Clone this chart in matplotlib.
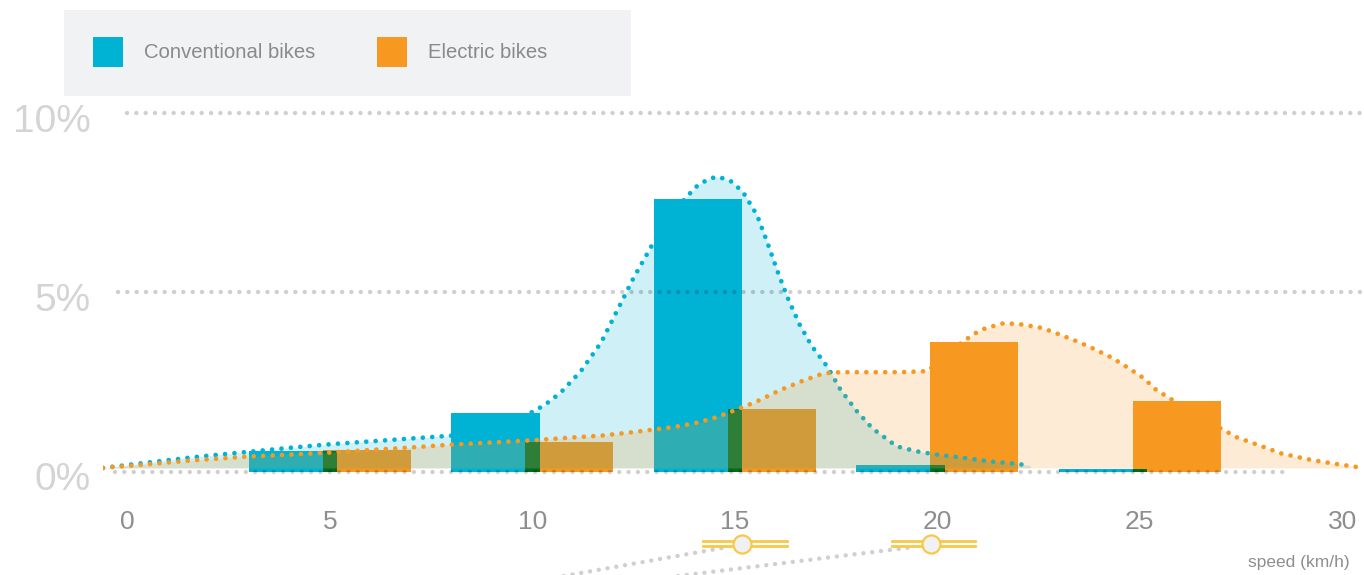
import matplotlib.pyplot as plt
import matplotlib.transforms as mtransforms
from matplotlib.patches import Rectangle

plt.rcParams['font.family'] = ['Liberation Sans', 'DejaVu Sans']

# data (percent of trips per speed class)
speed_bins = [5, 10, 15, 20, 25]
conventional = [0.57, 1.63, 7.61, 0.18, 0.07]
electric = [0.59, 0.82, 1.75, 3.62, 1.97]

conv_curve_x = [-0.6, 0.5, 1.8, 3.0, 4.0, 5.0, 6.0, 7.0, 8.0, 8.8, 9.4, 9.9, 10.3, 10.7,
                11.2, 11.7, 12.1, 12.5, 13.0, 13.4, 13.8, 14.1, 14.4, 14.6, 14.9, 15.2,
                15.55, 15.8, 16.05, 16.3, 16.6, 16.9, 17.3, 17.6, 18.0, 18.4, 19.0, 19.5,
                20.0, 20.6, 21.3, 21.8, 22.3]
conv_curve_y = [0.1, 0.25, 0.42, 0.55, 0.66, 0.76, 0.84, 0.92, 1.0, 1.1, 1.3, 1.6, 1.85, 2.2,
                2.8, 3.6, 4.5, 5.4, 6.4, 7.1, 7.65, 8.0, 8.18, 8.22, 8.1, 7.8,
                7.15, 6.4, 5.6, 4.86, 4.1, 3.5, 2.9, 2.3, 1.7, 1.2, 0.7, 0.56,
                0.47, 0.39, 0.28, 0.23, 0.17]

elec_curve_x = [-0.6, 0.5, 1.5, 2.5, 3.0, 4.0, 5.0, 6.0, 7.0, 8.0, 9.0, 10.0, 11.0, 11.7,
                12.5, 13.2, 13.6, 14.1, 14.5, 14.8, 15.2, 15.5, 16.1, 16.7, 17.2, 17.6,
                18.5, 19.1, 19.75, 20.2, 20.6, 20.8, 21.0, 21.2, 21.65, 22.1, 22.6, 23.0,
                23.45, 23.85, 24.3, 24.7, 25.1, 25.4, 25.8, 26.4, 27.0, 27.4, 27.9, 28.5,
                29.2, 29.9, 30.4]
elec_curve_y = [0.1, 0.2, 0.3, 0.38, 0.42, 0.47, 0.53, 0.6, 0.67, 0.75, 0.81, 0.87, 0.95, 1.0,
                1.1, 1.2, 1.26, 1.37, 1.5, 1.62, 1.8, 1.93, 2.26, 2.54, 2.74, 2.77,
                2.77, 2.77, 2.8, 3.2, 3.6, 3.75, 3.9, 4.0, 4.14, 4.1, 4.0, 3.83,
                3.63, 3.43, 3.18, 2.9, 2.6, 2.28, 2.0, 1.6, 1.2, 0.95, 0.75, 0.5,
                0.33, 0.2, 0.12]

x_ticks = [0, 5, 10, 15, 20, 25, 30]
y_ticks = [0, 5, 10]
y_labels = ['0%', '5%', '10%']
slider_values = [15.18, 19.84]

BLUE = '#00b2d4'
ORANGE = '#f79921'
GREEN = '#006b1b'
W, H = 1364, 575

fig = plt.figure(figsize=(W / 100, H / 100), dpi=100)
ax = fig.add_axes([103 / W, (H - 471.5) / H, (W - 103) / W, (471.5 - 113) / H])
ax.set_xlim(-0.6, -0.6 + (W - 103) / 40.5)
ax.set_ylim(0, 10)

dots = (0, (0.001, 2.0))

# bars
ax.bar([c - 2.0 for c in speed_bins], conventional, width=2.18, align='edge',
       color=BLUE, lw=0, zorder=2)
ax.bar([c - 0.18 for c in speed_bins], electric, width=2.18, align='edge',
       color=ORANGE, lw=0, zorder=2)
overlap = [min(a, b) for a, b in zip(conventional, electric)]
ax.bar([c - 0.18 for c in speed_bins], overlap, width=0.36, align='edge',
       color=GREEN, lw=0, zorder=2.5)

# density curves
ax.fill_between(conv_curve_x, 0.1, conv_curve_y, color=BLUE, alpha=0.19, lw=0, zorder=3)
ax.plot(conv_curve_x, conv_curve_y, color=BLUE, lw=3.4, linestyle=dots,
        dash_capstyle='round', zorder=3.5)
ax.fill_between(elec_curve_x, 0.1, elec_curve_y, color=ORANGE, alpha=0.19, lw=0, zorder=4)
ax.plot(elec_curve_x, elec_curve_y, color=ORANGE, lw=3.4, linestyle=dots,
        dash_capstyle='round', zorder=4.5)

# gridlines
grid_kw = dict(color='black', alpha=0.19, lw=3.2, linestyles=[(0, (0.001, 2.1))],
               capstyle='round', zorder=5, clip_on=False)
ax.hlines(10, 0, 30.5, **grid_kw)
ax.hlines(5, -0.22, 30.5, **grid_kw)
ax.hlines(0, -0.3, 28.6, **grid_kw)

for s in ax.spines.values():
    s.set_visible(False)

ax.set_xticks(x_ticks)
ax.set_xticklabels([str(t) for t in x_ticks])
ax.set_yticks(y_ticks)
ax.set_yticklabels(y_labels)
ax.tick_params(axis='x', length=0, pad=28, labelsize=19, labelcolor='#8e8e8e')
ax.tick_params(axis='y', length=0, pad=9, labelsize=28, labelcolor='#d4d4d4')
shift = mtransforms.ScaledTranslation(0, -5 / 100, fig.dpi_scale_trans)
for lab in ax.get_yticklabels():
    lab.set_transform(lab.get_transform() + shift)

ax.set_xlabel('speed (km/h)', fontsize=12.5, color='#8e8e8e', ha='right', va='center')
ax.xaxis.set_label_coords((1350 - 103) / (W - 103), (471.5 - 563) / (471.5 - 113))

# range slider below the axis
ax.plot([10.6, 14.81], [-2.95, -2.11], color='#d0d0d0', lw=3.2, linestyle=dots,
        dash_capstyle='round', clip_on=False)
ax.plot([13.2, 19.4], [-2.97, -2.11], color='#d0d0d0', lw=3.2, linestyle=dots,
        dash_capstyle='round', clip_on=False)
for v in slider_values:
    for yy in (-1.94, -2.09):
        ax.plot([v - 0.96, v + 1.1], [yy, yy], color='#f7c948', lw=2.0, clip_on=False)
    ax.plot([v], [-2.01], marker='o', markersize=13, markerfacecolor='#f0f1f3',
            markeredgecolor='#f7c948', markeredgewidth=1.6, clip_on=False)

# legend box
fig.add_artist(Rectangle((64 / W, 1 - 96 / H), (631 - 64) / W, 86 / H,
                         transform=fig.transFigure, color='#f1f2f4', lw=0))
for x0, col, name in [(93, BLUE, 'Conventional bikes'), (377, ORANGE, 'Electric bikes')]:
    fig.add_artist(Rectangle((x0 / W, 1 - 67 / H), 30 / W, 30 / H,
                             transform=fig.transFigure, color=col, lw=0))
    fig.text((x0 + 51) / W, 1 - 53 / H, name, fontsize=14.6, color='#8a8a8a', va='center')

fig.savefig('out.png', dpi=100)
